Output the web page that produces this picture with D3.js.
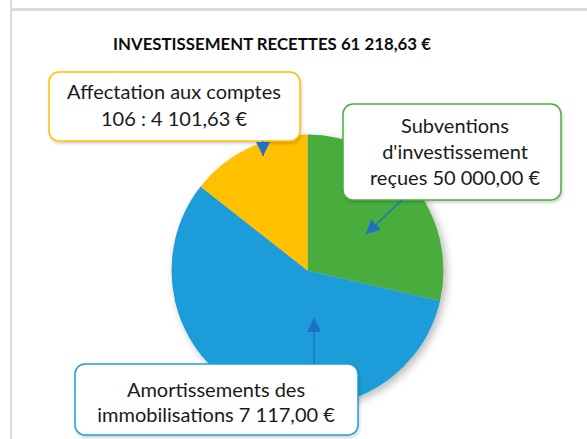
<!DOCTYPE html>
<html><head><meta charset="utf-8">
<script src="https://cdn.jsdelivr.net/npm/d3@7"></script>
<style>body{margin:0;background:#fff}svg{display:block}</style>
</head><body>
<svg id="c" width="587" height="439"></svg>
<script>
const title = "INVESTISSEMENT RECETTES 61 218,63 €";
const categories = ["Subventions d'investissement reçues", "Amortissements des immobilisations", "Affectation aux comptes 106"];
const sliceShares = [28.6, 57.0, 14.4];
const labelLines = [
  ["Subventions", "d'investissement", "reçues 50 000,00 €"],
  ["Amortissements des", "immobilisations 7 117,00 €"],
  ["Affectation aux comptes", "106 : 4 101,63 €"]
];
const colors = ["#48ad3e", "#1f9dda", "#ffc000"];

const svg = d3.select("#c");
const font = "Lato, sans-serif";
const defs = svg.append("defs");
const f = defs.append("filter").attr("id","sh").attr("x","-20%").attr("y","-20%").attr("width","140%").attr("height","140%");
f.append("feDropShadow").attr("dx",3).attr("dy",3).attr("stdDeviation",4).attr("flood-color","#000").attr("flood-opacity",0.28);
const f2 = defs.append("filter").attr("id","sh2").attr("x","-10%").attr("y","-20%").attr("width","120%").attr("height","150%");
f2.append("feDropShadow").attr("dx",1).attr("dy",2).attr("stdDeviation",1.5).attr("flood-color","#000").attr("flood-opacity",0.18);
const mk = defs.append("marker").attr("id","ah").attr("viewBox","0 0 10 10").attr("refX",10).attr("refY",5)
  .attr("markerWidth",14).attr("markerHeight",14).attr("markerUnits","userSpaceOnUse").attr("orient","auto");
mk.append("path").attr("d","M0,0 L10,5 L0,10 Z").attr("fill","#1e6fc6");

// frame
svg.append("rect").attr("x",10).attr("y",0).attr("width",2).attr("height",439).attr("fill","#dadada");
svg.append("rect").attr("x",12).attr("y",8).attr("width",575).attr("height",3).attr("fill","#dadada");

function fit(str, weight, target){
  const t = svg.append("text").attr("font-family",font).attr("font-weight",weight).attr("font-size",20).text(str);
  const w = t.node().getComputedTextLength(); t.remove();
  return 20*target/w;
}
const titleSize = fit(title, "bold", 318);
const labelSize = fit(labelLines[2][0], "normal", 214);

svg.append("text").attr("x",272).attr("y",50).attr("text-anchor","middle")
  .attr("font-family",font).attr("font-weight","bold").attr("font-size",titleSize).attr("fill","#0d0d0d").text(title);

const cx = 307.5, cy = 270.5, r = 136;
const pie = d3.pie().sort(null).value(d => d)(sliceShares);
const arc = d3.arc().innerRadius(0).outerRadius(r);
const g = svg.append("g").attr("transform",`translate(${cx},${cy})`).attr("filter","url(#sh)");
g.selectAll("path").data(pie).join("path").attr("d",arc).attr("fill",(d,i)=>colors[i]);

// callouts: box [x,y,w,h], arrow [x1,y1,x2,y2]
const boxes = [
  {b:[343,104,218,96], a:[402,200,366,234], lh:26, ty:133, tx:455},
  {b:[75,364,283,71], a:[314,364,314,318], lh:25, ty:397, tx:216},
  {b:[49,72,251,69], a:[263,141,263,156], lh:27, ty:99, tx:174}
];
boxes.forEach((o,i)=>{
  svg.append("rect").attr("x",o.b[0]).attr("y",o.b[1]).attr("width",o.b[2]).attr("height",o.b[3])
    .attr("rx",10).attr("fill","#fff").attr("stroke",colors[i]).attr("stroke-width",1.5).attr("filter","url(#sh2)");
  const t = svg.append("text").attr("text-anchor","middle").attr("font-family",font).attr("font-size",labelSize).attr("fill","#1a1a1a");
  labelLines[i].forEach((s,j)=>t.append("tspan").attr("x",o.tx).attr("y",o.ty+j*o.lh).text(s));
});
boxes.forEach((o,i)=>{
  svg.append("line").attr("x1",o.a[0]).attr("y1",o.a[1]).attr("x2",o.a[2]).attr("y2",o.a[3])
    .attr("stroke","#1e6fc6").attr("stroke-width",1.3).attr("marker-end","url(#ah)");
});
</script>
</body></html>
